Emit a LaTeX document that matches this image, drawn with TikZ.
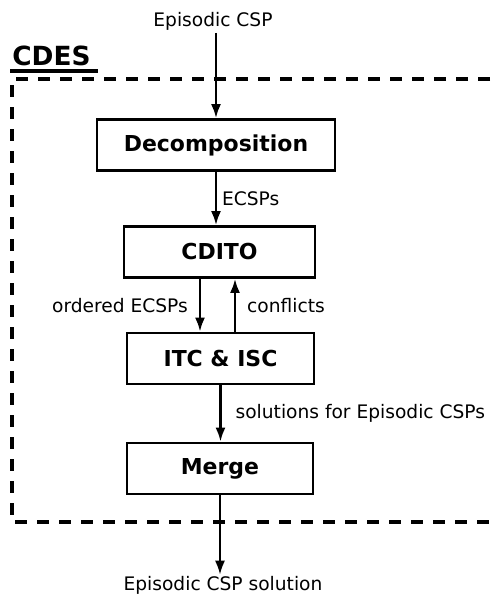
\documentclass[tikz,border=0pt]{standalone}
\usepackage{fontspec}
\setmainfont{DejaVu Sans}
\usetikzlibrary{arrows.meta}

\begin{document}
\begin{tikzpicture}[
        font=\fontsize{10.6}{12.7}\selectfont,
        box/.style={draw, line width=1.6pt, minimum height=1.02cm, inner sep=0,
                    font=\fontsize{12.5}{15}\selectfont\bfseries},
        flow/.style={-{Latex[length=0.28cm,width=0.2cm]}, line width=1.3pt},
        lbl/.style={inner sep=0.06cm},
        frame/.style={line width=2.1pt, dash pattern=on 0.24cm off 0.2cm}
    ]
            \useasboundingbox (0,0) rectangle (9.8,11.88);
            % CDES frame, open to the right
            \draw [frame] (9.8,10.3) -- (0.24,10.3) -- (0.24,1.44) -- (9.8,1.44);
            \node [anchor=base west, inner sep=0, font=\fontsize{15}{18}\selectfont\bfseries] (cdes) at (0.24,10.58) {CDES};
            \draw [line width=2pt] ([xshift=-0.04cm,yshift=-0.12cm]cdes.base west) -- ([xshift=0.14cm,yshift=-0.12cm]cdes.base east);
            % blocks
            \node [anchor=base, inner sep=1pt] (in) at (4.26,11.34) {Episodic CSP};
            \node [box, minimum width=4.76cm] (dec) at (4.32,8.98) {Decomposition};
            \node [box, minimum width=3.82cm] (cdito) at (4.39,6.84) {CDITO};
            \node [box, minimum width=3.74cm] (itc) at (4.41,4.71) {ITC \& ISC};
            \node [box, minimum width=3.72cm] (merge) at (4.40,2.51) {Merge};
            \node [anchor=base, inner sep=1pt] (out) at (4.46,0.06) {Episodic CSP solution};
            % flows
            \draw [flow] (in.south -| dec.north) -- (dec.north);
            \draw [flow] (dec.south) -- node [lbl, right=0.04cm, pos=0.5]{ECSPs} (dec.south |- cdito.north);
            \draw [flow] ([xshift=-0.39cm]cdito.south) -- node [lbl, left=0.16cm, pos=0.5]{ordered ECSPs} ([xshift=-0.39cm]cdito.south |- itc.north);
            \draw [flow] ([xshift=0.31cm]cdito.south |- itc.north) -- node [lbl, right=0.16cm, pos=0.5]{conflicts} ([xshift=0.31cm]cdito.south);
            \draw [flow] (itc.south) -- node [lbl, right=0.22cm, pos=0.5]{solutions for Episodic CSPs} (itc.south |- merge.north);
            \draw [flow] (merge.south) -- (merge.south |- out.north);
        \end{tikzpicture}
\end{document}
